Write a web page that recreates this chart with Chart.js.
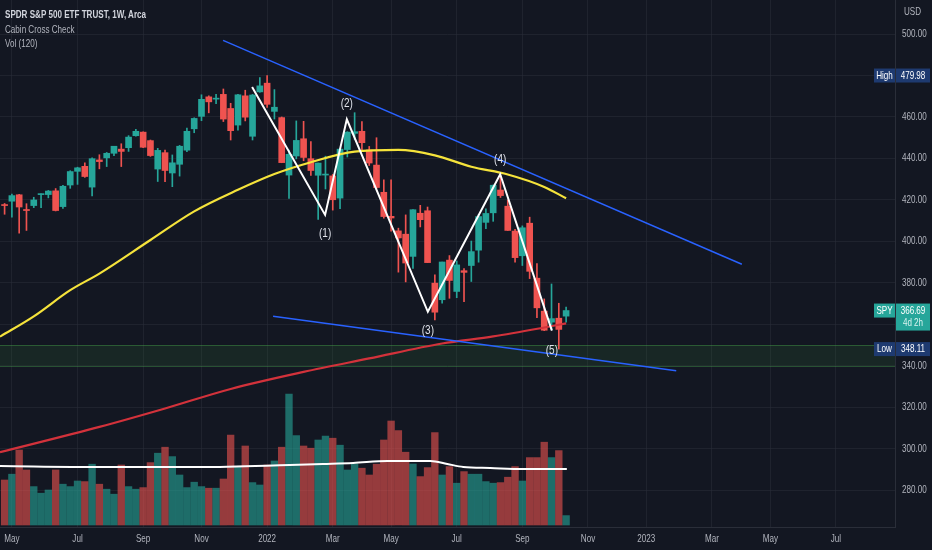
<!DOCTYPE html>
<html><head><meta charset="utf-8">
<script src="https://cdn.jsdelivr.net/npm/chart.js@4.4.1/dist/chart.umd.min.js"></script>
<style>
html,body{margin:0;padding:0;background:#131722;overflow:hidden}
#wrap{position:relative;width:932px;height:550px}
canvas{display:block}
#legend{position:absolute;left:5px;top:7px;font-family:'Liberation Sans',Arial,sans-serif;color:#b2b5be;font-size:10.5px;line-height:14.5px;pointer-events:none;white-space:nowrap;transform:scaleX(0.77);transform-origin:0 0}
#legend .t{color:#d1d4dc;font-weight:bold}
</style></head><body>
<div id="wrap"><canvas id="c" width="932" height="550"></canvas>
<div id="legend"><div class="t">SPDR S&amp;P 500 ETF TRUST, 1W, Arca</div><div>Cabin Cross Check</div><div>Vol (120)</div></div></div>
<script>
// ---- data ----
const weeks = ['2021-04-26','2021-05-03','2021-05-10','2021-05-17','2021-05-24','2021-05-31','2021-06-07','2021-06-14','2021-06-21','2021-06-28',
'2021-07-05','2021-07-12','2021-07-19','2021-07-26','2021-08-02','2021-08-09','2021-08-16','2021-08-23','2021-08-30','2021-09-06',
'2021-09-13','2021-09-20','2021-09-27','2021-10-04','2021-10-11','2021-10-18','2021-10-25','2021-11-01','2021-11-08','2021-11-15',
'2021-11-22','2021-11-29','2021-12-06','2021-12-13','2021-12-20','2021-12-27','2022-01-03','2022-01-10','2022-01-17','2022-01-24',
'2022-01-31','2022-02-07','2022-02-14','2022-02-21','2022-02-28','2022-03-07','2022-03-14','2022-03-21','2022-03-28','2022-04-04',
'2022-04-11','2022-04-18','2022-04-25','2022-05-02','2022-05-09','2022-05-16','2022-05-23','2022-05-30','2022-06-06','2022-06-13',
'2022-06-20','2022-06-27','2022-07-04','2022-07-11','2022-07-18','2022-07-25','2022-08-01','2022-08-08','2022-08-15','2022-08-22',
'2022-08-29','2022-09-05','2022-09-12','2022-09-19','2022-09-26','2022-10-03','2022-10-10','2022-10-17'];
const open  = [417.4,419.4,422.5,415.4,417.3,422.57,422.6,424.4,416.8,427.2,433.8,436.2,426.2,439.3,440.3,442.5,444.5,445.2,450.97,452.7,
448.6,434.9,442.8,433.0,437.2,444.0,454.3,460.3,469.7,468.6,470.9,464.1,456.1,470.2,450.7,472.1,476.3,462.7,459.7,432.0,
441.2,449.5,439.9,431.9,432.0,431.6,420.9,444.3,452.1,453.1,444.1,436.8,423.7,412.1,405.1,403.5,392.8,413.6,414.8,379.9,
371.9,391.0,375.9,385.9,388.4,395.8,409.2,413.8,424.8,417.0,405.0,393.1,408.8,382.3,366.4,361.1,363.0,364.0];
const high  = [418.3,422.8,422.7,418.2,421.3,422.9,424.6,425.5,427.1,434.1,435.8,437.9,440.3,441.8,442.9,445.9,447.1,451.0,454.05,452.8,
448.9,444.9,444.1,441.7,446.3,454.7,459.6,470.7,470.2,470.9,473.5,466.6,470.9,472.9,470.9,479.0,479.98,473.2,460.0,444.0,
458.1,457.9,448.1,437.8,441.1,432.3,444.9,452.9,462.07,457.8,445.8,450.0,429.7,429.7,406.4,412.8,415.4,417.4,416.6,383.9,
390.1,393.2,390.6,386.9,400.2,413.0,415.7,427.2,431.7,420.0,405.8,407.5,411.7,389.3,372.3,379.5,370.2,368.4];
const low   = [413.1,411.7,404.0,405.3,416.3,416.3,421.0,414.7,415.9,425.6,427.5,430.9,422.0,435.0,436.1,441.3,436.1,443.4,450.7,445.2,
441.0,428.9,428.8,426.4,431.5,443.3,452.4,458.2,462.0,466.4,457.8,448.9,453.6,458.1,448.9,471.9,464.6,459.0,437.95,420.8,
439.8,438.9,431.8,410.6,425.3,415.1,415.8,440.7,449.1,443.5,436.6,425.4,411.2,405.0,385.2,380.5,387.0,407.0,389.8,362.2,
370.2,372.6,372.9,371.0,380.7,390.0,406.2,409.7,421.2,405.3,390.0,388.4,382.1,363.3,357.0,357.5,348.11,361.1];
const close = [417.3,422.1,416.6,414.9,420.0,422.6,424.3,414.9,426.6,433.7,435.5,431.3,439.9,438.5,442.5,445.9,443.4,450.3,453.1,445.4,
441.4,443.9,434.2,437.9,445.9,453.1,459.3,468.5,467.3,468.9,459.0,453.4,470.7,459.9,470.6,475.0,466.1,464.7,438.0,442.0,
448.7,440.5,434.2,437.8,432.2,420.1,444.5,452.7,452.9,447.6,437.8,426.0,412.0,411.3,401.7,389.6,415.3,410.5,389.8,365.9,
390.1,381.2,388.7,385.1,395.1,412.0,413.5,427.1,422.1,405.3,392.2,406.6,385.6,368.0,357.2,362.8,357.6,366.69];
const volume = [225,254,375,275,192,159,175,275,204,192,220,217,304,204,179,154,300,192,179,187,
312,359,389,342,250,187,214,192,184,184,230,450,292,395,212,200,300,320,389,655,
447,395,384,425,445,434,399,275,305,284,250,304,425,520,472,364,305,242,287,462,
250,292,209,267,254,254,217,209,212,239,292,220,337,337,414,337,372,47];
// moving averages (week position, value)
const maYellowPos = [-0.63,4,9,13,20,26,32,37,42,48,54,59,64,69,74,77];
const maYellowVal = [354.1,363.9,376.5,384.5,400.7,414.5,424.9,432.5,438.2,443.3,444.1,441.5,436.0,432.3,426.3,420.8];
const maRedPos = [-0.63,13,22,31,41,50,60,67,74,77];
const maRedVal = [298.4,310.6,319.5,328.9,337.1,343.6,350.8,354.2,358.5,360.5];
const volMaPos = [-0.63,13.1,26.8,39.1,43.7,47.8,52.5,58.4,60.7,62.9,66.6,71.1,77.1];
const volMaVal = [295,290,290,300,305,310,320,320,305,290,285,280,280];
// drawings
const upperPos = [29.96,101.1], upperVal = [496.9,389.0];
const lowerPos = [36.82,92.1], lowerVal = [363.9,337.7];
const wavePos = [33.94,43.95,46.93,58.04,67.96,75.05];
const waveVal = [474.5,412.8,458.9,366.1,432.4,357.0];
const waveLabels = ['(1)','(2)','(3)','(4)','(5)'];
const waveLabelPos = [43.95,46.93,58.04,67.96,75.05];
const waveLabelVal = [403.9,466.6,357.0,439.7,347.7];
const zoneTop = 350.1, zoneBottom = 340.1;
const highVal = 479.98, lowVal = 348.11, lastVal = 366.69, countdown = '4d 2h', symbol = 'SPY';
// axes
const timeTickPos = [1,10,19,27,36,45,53,62,71,80,88,97,105,114];
const timeTickLabels = ['May','Jul','Sep','Nov','2022','Mar','May','Jul','Sep','Nov','2023','Mar','May','Jul'];
const priceTicks = [280,300,320,340,360,380,400,420,440,460,480,500];

// ---- chart ----
const UP = '#26a69a', DN = '#ef5350';
const FONT = "'Liberation Sans',Arial,sans-serif";
const SX = 0.77; // the reference text is horizontally condensed
const up = weeks.map((w,i)=>close[i] >= open[i]);
const pts = (xs, ys) => xs.map((x,i)=>({x, y: ys[i]}));

function txt(ctx, s, x, y, align){
  ctx.save(); ctx.translate(x, y); ctx.scale(SX, 1);
  ctx.textAlign = align || 'center'; ctx.textBaseline = 'middle';
  ctx.fillText(s, 0, 0); ctx.restore();
}

const overlay = {
  id: 'overlay',
  beforeDatasetsDraw(chart){
    const {ctx, chartArea:a, scales:{y}} = chart;
    const t = y.getPixelForValue(zoneTop), b = y.getPixelForValue(zoneBottom);
    ctx.save();
    ctx.fillStyle = 'rgba(56,142,60,0.14)';
    ctx.fillRect(a.left, t, a.right - a.left, b - t);
    ctx.strokeStyle = 'rgba(76,175,80,0.38)';
    ctx.lineWidth = 1;
    ctx.beginPath();
    ctx.moveTo(a.left, Math.round(t)+0.5); ctx.lineTo(a.right, Math.round(t)+0.5);
    ctx.moveTo(a.left, Math.round(b)+0.5); ctx.lineTo(a.right, Math.round(b)+0.5);
    ctx.stroke();
    ctx.restore();
  },
  afterDraw(chart){
    const {ctx, chartArea:a, scales:{x, y}} = chart;
    ctx.save();
    // axis labels
    ctx.font = '10.5px ' + FONT;
    ctx.fillStyle = '#b2b5be';
    priceTicks.forEach(v=>txt(ctx, v.toFixed(2), a.right + 7, y.getPixelForValue(v), 'left'));
    timeTickPos.forEach((v,i)=>txt(ctx, timeTickLabels[i], x.getPixelForValue(v), a.bottom + 12));
    txt(ctx, 'USD', a.right + 9, 12.5, 'left');
    // wave labels
    ctx.font = '13px ' + FONT;
    ctx.fillStyle = '#e0e3eb';
    waveLabels.forEach((t,i)=>txt(ctx, t, x.getPixelForValue(waveLabelPos[i]), y.getPixelForValue(waveLabelVal[i])));
    // badges
    ctx.font = '10.5px ' + FONT;
    const badge = (val, label, color, sub) => {
      const py = y.getPixelForValue(val);
      const h = 14;
      ctx.fillStyle = color;
      ctx.fillRect(a.right - 21, py - h/2, 21, h);
      ctx.fillRect(a.right + 1, py - h/2, 34, sub ? 27 : h);
      ctx.fillStyle = '#ffffff';
      txt(ctx, label, a.right - 10.5, py + 0.5);
      txt(ctx, val.toFixed(2), a.right + 18, py + 0.5);
      if (sub) { ctx.fillStyle = '#d8f3ef'; txt(ctx, sub, a.right + 18, py + 13); }
    };
    badge(highVal, 'High', '#1e3a70');
    badge(lowVal, 'Low', '#1e3a70');
    badge(lastVal, symbol, UP, countdown);
    ctx.restore();
  }
};

new Chart(document.getElementById('c'), {
  type: 'bar',
  data: {
    datasets: [
      {type:'line', data: pts(wavePos, waveVal), borderColor:'#ffffff', borderWidth:2, pointRadius:0, tension:0, order:0, yAxisID:'y'},
      {type:'line', data: pts(upperPos, upperVal), borderColor:'#2962ff', borderWidth:1.5, pointRadius:0, tension:0, order:1, yAxisID:'y'},
      {type:'line', data: pts(lowerPos, lowerVal), borderColor:'#2962ff', borderWidth:1.5, pointRadius:0, tension:0, order:1, yAxisID:'y'},
      {type:'line', data: pts(maYellowPos, maYellowVal), borderColor:'#f5e33b', borderWidth:2.2, pointRadius:0, cubicInterpolationMode:'monotone', order:2, yAxisID:'y'},
      {type:'line', data: pts(maRedPos, maRedVal), borderColor:'#d3323b', borderWidth:2.2, pointRadius:0, cubicInterpolationMode:'monotone', order:2, yAxisID:'y'},
      {type:'bar', data: weeks.map((w,i)=>({x:i, y:[open[i], close[i]]})), backgroundColor: up.map(u=>u?UP:DN),
        barThickness:6, grouped:false, minBarLength:1, order:4, yAxisID:'y'},
      {type:'bar', data: weeks.map((w,i)=>({x:i, y:[low[i], high[i]]})), backgroundColor: up.map(u=>u?UP:DN),
        barThickness:1, grouped:false, order:5, yAxisID:'y'},
      {type:'line', data: pts(volMaPos, volMaVal), borderColor:'#ffffff', borderWidth:2, pointRadius:0, cubicInterpolationMode:'monotone', order:8, yAxisID:'vol'},
      {type:'bar', data: weeks.map((w,i)=>({x:i, y:volume[i]})), backgroundColor: up.map(u=>u?'rgba(38,166,154,0.6)':'rgba(239,83,80,0.6)'),
        barThickness:6.7, grouped:false, order:9, yAxisID:'vol'}
    ]
  },
  options: {
    responsive:false, animation:false, events:[],
    layout:{padding:0},
    plugins:{legend:{display:false}, tooltip:{enabled:false}},
    scales:{
      x:{type:'linear', position:'bottom', min:-0.63, max:122.1, offset:false,
        afterBuildTicks(s){ s.ticks = timeTickPos.map(v=>({value:v})); },
        afterFit(s){ s.height = 23; },
        grid:{color:'rgba(42,46,57,0.55)', drawTicks:false, offset:false},
        border:{display:true, color:'#2a2e39'},
        ticks:{display:false, autoSkip:false}},
      y:{type:'linear', position:'right', min:262.35, max:516.39,
        afterBuildTicks(s){ s.ticks = priceTicks.map(v=>({value:v})); },
        afterFit(s){ s.width = 37; },
        grid:{color:'rgba(42,46,57,0.55)', drawTicks:false},
        border:{display:true, color:'#2a2e39'},
        ticks:{display:false}},
      vol:{type:'linear', display:false, min:-10, max:2625}
    }
  },
  plugins:[overlay]
});
</script>
</body></html>
